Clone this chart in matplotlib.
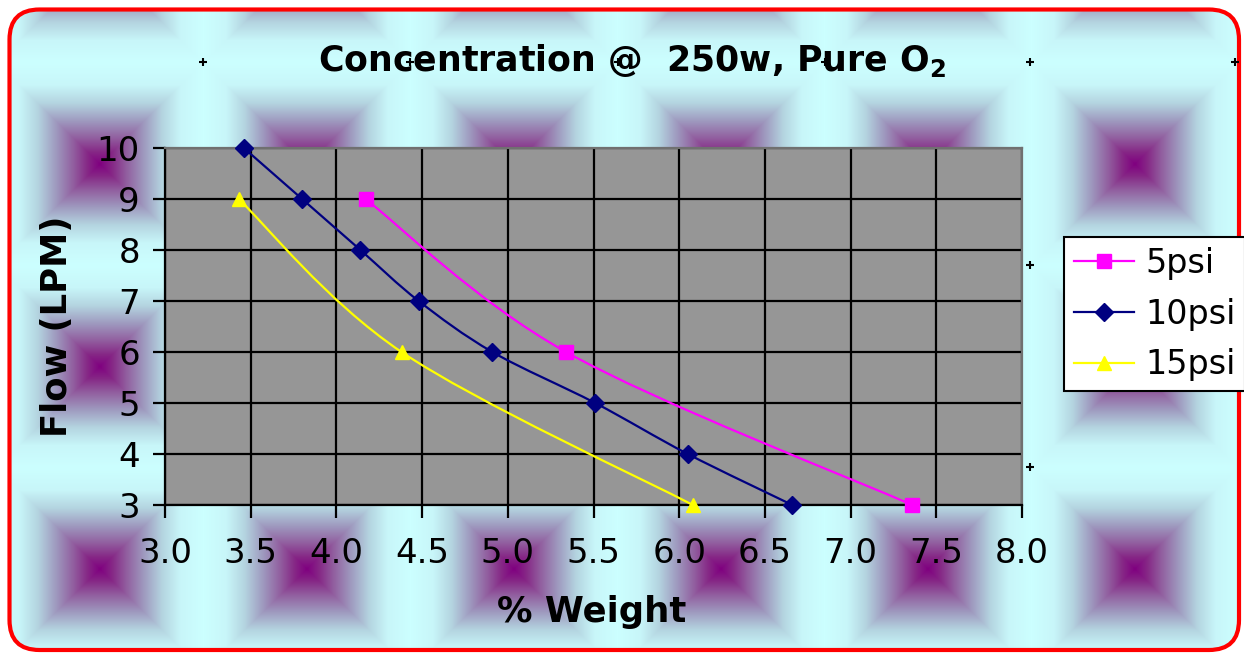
import numpy as np
import matplotlib
matplotlib.use("Agg")
import matplotlib.pyplot as plt
from matplotlib.path import Path
from matplotlib.patches import PathPatch, FancyBboxPatch
from matplotlib.lines import Line2D

plt.rcParams['font.family'] = ['DejaVu Sans']
plt.rcParams['mathtext.fontset'] = 'dejavusans'

# ---------------- data ----------------
series_names = ["5psi", "10psi", "15psi"]
x_5psi = [4.17, 5.34, 7.36]
y_5psi = [9, 6, 3]
x_10psi = [3.46, 3.80, 4.14, 4.48, 4.91, 5.51, 6.05, 6.66]
y_10psi = [10, 9, 8, 7, 6, 5, 4, 3]
x_15psi = [3.43, 4.38, 6.08]
y_15psi = [9, 6, 3]
x_ticks = [3.0, 3.5, 4.0, 4.5, 5.0, 5.5, 6.0, 6.5, 7.0, 7.5, 8.0]
y_ticks = [3, 4, 5, 6, 7, 8, 9, 10]

colors = ["#FF00FF", "#000080", "#FFFF00"]
markers = ["s", "D", "^"]
msizes = [9.5, 9.5, 10.5]

W, H = 1244, 655
fig = plt.figure(figsize=(W / 100, H / 100), dpi=100)

# ---------------- background (tiled square gradient) ----------------
bg = fig.add_axes([0, 0, 1, 1])
bg.set_xlim(0, W)
bg.set_ylim(H, 0)
bg.axis("off")
yy, xx = np.mgrid[0:H, 0:W] + 0.5
cx0, cy0, tw, th = 100.0, 164.0, 207.0, 202.5
dx = ((xx - cx0 + tw / 2) % tw) - tw / 2
dy = ((yy - cy0 + th / 2) % th) - th / 2
t = np.maximum(np.abs(dx) / (tw / 2), np.abs(dy) / (th / 2))
stops = [0.0, 0.12, 0.25, 0.42, 0.6, 0.78, 1.0]
rs = [128, 134, 145, 158, 180, 200, 204]
gs = [0, 40, 92, 152, 212, 246, 255]
bs = [128, 134, 158, 190, 224, 249, 255]
img = np.dstack([np.interp(t, stops, rs), np.interp(t, stops, gs),
                 np.interp(t, stops, bs)]) / 255.0
im = bg.imshow(img, extent=(0, W, H, 0), interpolation="bilinear", zorder=0)
frame = FancyBboxPatch((9.5, 9.5), 1229.5, 640.5,
                       boxstyle="round,pad=0,rounding_size=30",
                       facecolor="none", edgecolor="#FF0000", lw=3.0, zorder=2)
bg.add_patch(frame)
im.set_clip_path(frame)

# small selection-handle crosses
for (px, py) in [(203, 62), (410, 62), (618, 62), (825, 62), (1030, 62),
                 (1235, 62), (1030, 265), (1030, 467)]:
    bg.plot([px], [py], marker="+", color="black", ms=6, mew=1.5, zorder=3)

# ---------------- main axes ----------------
ax = fig.add_axes([165 / W, 150 / H, 857 / W, 357 / H])
ax.set_facecolor("#969696")
ax.set_xlim(3.0, 8.0)
ax.set_ylim(3, 10)
ax.set_xticks(x_ticks)
ax.set_xticklabels([f"{v:.1f}" for v in x_ticks])
ax.set_yticks(y_ticks)
ax.set_yticklabels([str(v) for v in y_ticks])
ax.grid(True, color="black", lw=1.6)
ax.set_axisbelow(True)
for s in ["left", "bottom"]:
    ax.spines[s].set_color("black")
    ax.spines[s].set_linewidth(1.6)
for s in ["top", "right"]:
    ax.spines[s].set_color("#707070")
    ax.spines[s].set_linewidth(1.6)
ax.tick_params(axis="both", direction="out", length=9, width=1.6,
               labelsize=24.5, colors="black")
ax.tick_params(axis="y", pad=9)
ax.tick_params(axis="x", pad=14)
ax.tick_params(top=False, right=False)


def smooth_path(xs, ys):
    pts = np.column_stack([xs, ys]).astype(float)
    n = len(pts)
    verts = [pts[0]]
    codes = [Path.MOVETO]
    for i in range(n - 1):
        p0 = pts[i - 1] if i > 0 else pts[i]
        p1 = pts[i]
        p2 = pts[i + 1]
        p3 = pts[i + 2] if i + 2 < n else pts[i + 1]
        c1 = p1 + (p2 - p0) / 6.0
        c2 = p2 - (p3 - p1) / 6.0
        verts += [c1, c2, p2]
        codes += [Path.CURVE4] * 3
    return Path(np.array(verts), codes)


all_x = [x_5psi, x_10psi, x_15psi]
all_y = [y_5psi, y_10psi, y_15psi]
handles = []
for name, xs, ys, c, m, ms in zip(series_names, all_x, all_y, colors, markers, msizes):
    ax.add_patch(PathPatch(smooth_path(xs, ys), facecolor="none",
                           edgecolor=c, lw=1.6, zorder=3))
    ax.plot(xs, ys, linestyle="none", marker=m, color=c, ms=ms,
            zorder=5, clip_on=False)
    handles.append(Line2D([], [], color=c, lw=1.6, marker=m, ms=ms))

leg = fig.legend(handles, series_names, loc="upper left",
                 bbox_to_anchor=(1064 / W, 1 - 237 / H), fontsize=24,
                 frameon=True, fancybox=False, framealpha=1, edgecolor="black",
                 borderaxespad=0, handlelength=1.8, handletextpad=0.33,
                 labelspacing=0.53, borderpad=0.3)
leg.get_frame().set_linewidth(1.5)

fig.text(632 / W, 1 - 71 / H, r"Concentration @  250w, Pure O$_\mathbf{2}$",
         ha="center", va="baseline", fontsize=25, fontweight="bold")
fig.text(592 / W, 1 - 622 / H, "% Weight", ha="center", va="baseline",
         fontsize=25.5, fontweight="bold")
fig.text(57 / W, 1 - 326 / H, "Flow (LPM)", ha="center", va="center",
         rotation=90, fontsize=25.5, fontweight="bold")

fig.savefig("out.png", dpi=100)
